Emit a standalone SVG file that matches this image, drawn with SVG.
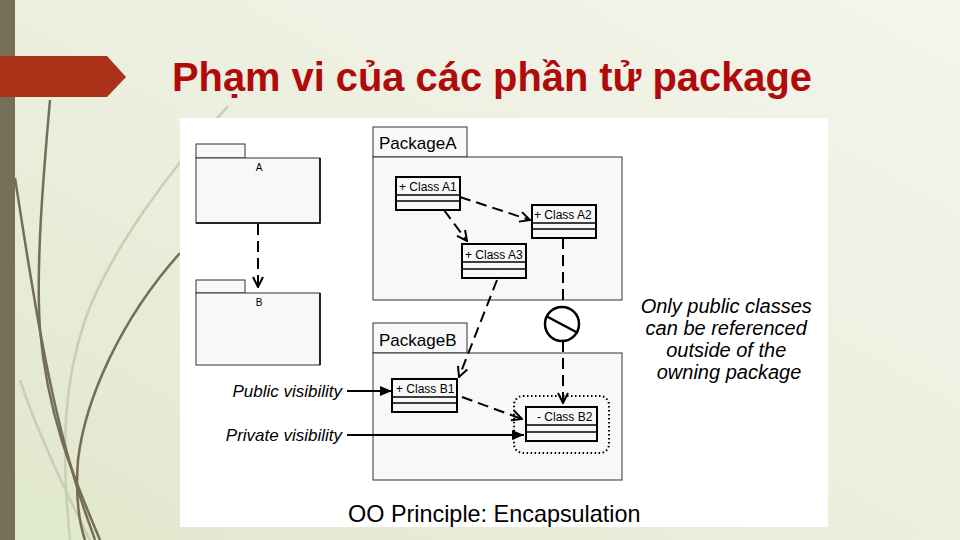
<svg xmlns="http://www.w3.org/2000/svg" width="960" height="540" viewBox="0 0 960 540">
  <defs>
    <linearGradient id="bg" x1="1" y1="0" x2="0" y2="1">
      <stop offset="0" stop-color="#f4f5ec"/>
      <stop offset="0.5" stop-color="#ecefdf"/>
      <stop offset="1" stop-color="#e0e8cc"/>
    </linearGradient>
    <marker id="open" viewBox="0 0 12 12" refX="11" refY="6" markerWidth="12" markerHeight="12" markerUnits="userSpaceOnUse" orient="auto">
      <path d="M1,1 L11,6 L1,11" fill="none" stroke="#000" stroke-width="2"/>
    </marker>
    <marker id="solid" viewBox="0 0 12 10" refX="12" refY="5" markerWidth="12" markerHeight="10" markerUnits="userSpaceOnUse" orient="auto">
      <path d="M0,0 L12,5 L0,10 z" fill="#000"/>
    </marker>
    <style>
      .pkg { fill: #f8f8f8; stroke: #333; stroke-width: 1; }
      .cls { fill: #f8f8f8; stroke: #000; stroke-width: 2; }
      .cline { stroke: #000; stroke-width: 1.5; }
      .ctext { font-family: "Liberation Sans", Arial, sans-serif; font-size: 12px; fill: #000; }
      .ptext { font-family: "Liberation Sans", Arial, sans-serif; font-size: 17px; fill: #000; }
      .small { font-family: "Liberation Sans", Arial, sans-serif; font-size: 10px; fill: #000; }
      .note { font-family: "Liberation Sans", Arial, sans-serif; font-size: 20px; font-style: italic; fill: #000; }
      .vis { font-family: "Liberation Sans", Arial, sans-serif; font-size: 17px; font-style: italic; fill: #000; }
      .dash { fill: none; stroke: #000; stroke-width: 2; stroke-dasharray: 11 6; }
      .deco { fill: none; stroke: #756d55; stroke-width: 2.5; }
      .decol { fill: none; stroke: #c9cfb6; stroke-width: 2.5; }
    </style>
  </defs>

  <!-- background -->
  <rect x="0" y="0" width="960" height="540" fill="url(#bg)"/>
  <g id="decor">
    <path class="decol" d="M228,106 C170,170 110,250 85,320 C65,380 60,440 70,540"/>
    <path class="decol" d="M20,380 C40,440 70,500 90,540"/>
    <path class="deco" d="M50,100 C42,190 36,270 40,330 C48,420 75,480 100,540"/>
    <path class="deco" d="M15,178 C28,260 45,380 72,470 C80,500 90,525 95,540"/>
    <path class="deco" d="M180,253 C120,320 85,400 78,460 C75,500 80,525 85,540"/>
  </g>
  <rect x="0" y="0" width="15" height="540" fill="#776f57"/>
  <polygon points="0,56 107,56 126,77 107,97 0,97" fill="#a93218"/>

  <text x="172" y="91" font-family="'Liberation Sans', Arial, sans-serif" font-size="40" font-weight="bold" fill="#b00a0a" textLength="640" lengthAdjust="spacingAndGlyphs">Phạm vi của các phần tử package</text>

  <!-- white image area -->
  <rect x="180" y="118" width="648" height="409" fill="#ffffff"/>

  <!-- small packages -->
  <g id="pkgA_small">
    <rect class="pkg" x="196" y="144" width="49" height="14"/>
    <rect class="pkg" x="196" y="158" width="124" height="65"/>
    <path d="M320,158 L320,223 L196,223" fill="none" stroke="#000" stroke-width="1.5"/>
    <text class="small" x="259" y="171" text-anchor="middle">A</text>
  </g>
  <g id="pkgB_small">
    <rect class="pkg" x="196" y="280" width="49" height="13"/>
    <rect class="pkg" x="196" y="293" width="124" height="72"/>
    <path d="M320,293 L320,365" fill="none" stroke="#000" stroke-width="1.5"/>
    <text class="small" x="259" y="306" text-anchor="middle">B</text>
  </g>

  <!-- PackageA -->
  <g id="PackageA">
    <rect class="pkg" x="373" y="127" width="94" height="30"/>
    <rect class="pkg" x="373" y="157" width="249" height="143"/>
    <text class="ptext" x="379" y="149">PackageA</text>
  </g>
  <!-- PackageB -->
  <g id="PackageB">
    <rect class="pkg" x="373" y="323" width="94" height="30"/>
    <rect class="pkg" x="373" y="353" width="249" height="127"/>
    <text class="ptext" x="379" y="346">PackageB</text>
  </g>

  <g id="ClassA1">
    <rect class="cls" x="396" y="177" width="64" height="33"/>
    <line class="cline" x1="396" y1="195" x2="460" y2="195"/>
    <line class="cline" x1="396" y1="201" x2="460" y2="201"/>
    <text class="ctext" x="399" y="191">+ Class A1</text>
  </g>
  <g id="ClassA2">
    <rect class="cls" x="532" y="205" width="64" height="33"/>
    <line class="cline" x1="532" y1="223" x2="596" y2="223"/>
    <line class="cline" x1="532" y1="229" x2="596" y2="229"/>
    <text class="ctext" x="534" y="219">+ Class A2</text>
  </g>
  <g id="ClassA3">
    <rect class="cls" x="462" y="244" width="64" height="34"/>
    <line class="cline" x1="462" y1="262" x2="526" y2="262"/>
    <line class="cline" x1="462" y1="269" x2="526" y2="269"/>
    <text class="ctext" x="465" y="259">+ Class A3</text>
  </g>
  <g id="ClassB1">
    <rect class="cls" x="392" y="379" width="65" height="33"/>
    <line class="cline" x1="392" y1="397" x2="457" y2="397"/>
    <line class="cline" x1="392" y1="403" x2="457" y2="403"/>
    <text class="ctext" x="396" y="393">+ Class B1</text>
  </g>
  <g id="ClassB2">
    <rect x="514" y="396" width="95" height="57" rx="9" fill="none" stroke="#000" stroke-width="2" stroke-dasharray="1.5 2.5"/>
    <rect class="cls" x="526" y="407" width="71" height="34"/>
    <line class="cline" x1="526" y1="425" x2="597" y2="425"/>
    <line class="cline" x1="526" y1="432" x2="597" y2="432"/>
    <text class="ctext" x="537" y="421">- Class B2</text>
  </g>

  <g id="noaccess">
    <circle cx="562" cy="324" r="17" fill="#fff" stroke="#000" stroke-width="2.5"/>
    <line x1="546" y1="316" x2="578" y2="333" stroke="#000" stroke-width="2.5"/>
  </g>

  <!-- connectors -->
  <g id="connectors">
    <line class="dash" x1="258" y1="224" x2="258" y2="287" marker-end="url(#open)" stroke-dasharray="8 5"/>
    <line class="dash" x1="460" y1="197" x2="530" y2="220" marker-end="url(#open)"/>
    <line class="dash" x1="444" y1="210" x2="467" y2="241" marker-end="url(#open)"/>
    <line class="dash" x1="563" y1="238" x2="563" y2="307"/>
    <line class="dash" x1="563" y1="341" x2="563" y2="403" marker-end="url(#open)"/>
    <line class="dash" x1="497" y1="280" x2="459" y2="377" marker-end="url(#open)"/>
    <line class="dash" x1="462" y1="397" x2="522" y2="419" marker-end="url(#open)"/>
    <line x1="347" y1="391" x2="392" y2="391" stroke="#000" stroke-width="2" marker-end="url(#solid)"/>
    <line x1="347" y1="435" x2="524" y2="435" stroke="#000" stroke-width="2" marker-end="url(#solid)"/>
  </g>

  <g id="labels">
    <text class="vis" x="342" y="397" text-anchor="end">Public visibility</text>
    <text class="vis" x="342" y="441" text-anchor="end">Private visibility</text>
    <text class="note" text-anchor="middle">
      <tspan x="729" y="313">Only public classes</tspan>
      <tspan x="729" y="335">can be referenced</tspan>
      <tspan x="729" y="357">outside of the</tspan>
      <tspan x="729" y="379">owning package</tspan>
    </text>
    <text x="348" y="522" font-family="'Liberation Sans', Arial, sans-serif" font-size="23.4" fill="#000">OO Principle: Encapsulation</text>
  </g>
</svg>
